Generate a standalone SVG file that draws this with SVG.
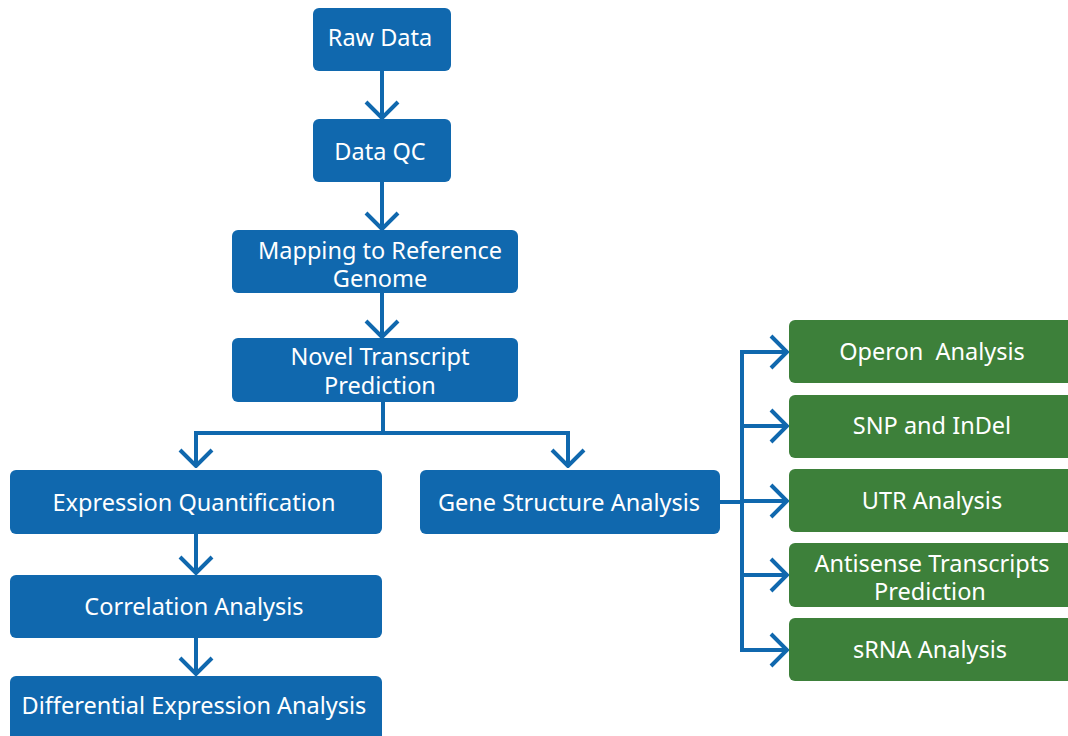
<svg xmlns="http://www.w3.org/2000/svg" width="1068" height="736" viewBox="0 0 1068 736">
<defs>
<style>
.b{fill:#1068ae}
.g{fill:#3d803a}
text{font-family:"Noto Sans","Open Sans",sans-serif;font-size:23.5px;fill:#ffffff;text-anchor:middle;dominant-baseline:central;white-space:pre}
.c{fill:none;stroke:#1068ae;stroke-width:4}
</style>
<marker id="ah" viewBox="0 0 20 36" refX="18" refY="18" markerWidth="20" markerHeight="36" markerUnits="userSpaceOnUse" orient="auto">
<path d="M2,2 L18,18 L2,34" fill="none" stroke="#1068ae" stroke-width="4"/>
</marker>
</defs>
<rect width="1068" height="736" fill="#ffffff"/>
<g id="connectors">
<path class="c" d="M382,71 V118" marker-end="url(#ah)"/>
<path class="c" d="M382,182 V229" marker-end="url(#ah)"/>
<path class="c" d="M382,293 V337" marker-end="url(#ah)"/>
<path class="c" d="M383,402 V433"/>
<path class="c" d="M196,433 H568"/>
<path class="c" d="M196,431 V466" marker-end="url(#ah)"/>
<path class="c" d="M568,431 V466" marker-end="url(#ah)"/>
<path class="c" d="M196,534 V573" marker-end="url(#ah)"/>
<path class="c" d="M196,638 V674" marker-end="url(#ah)"/>
<path class="c" d="M720,502 H742"/>
<path class="c" d="M742,350 V652"/>
<path class="c" d="M740,352 H787" marker-end="url(#ah)"/>
<path class="c" d="M740,426 H787" marker-end="url(#ah)"/>
<path class="c" d="M740,501 H787" marker-end="url(#ah)"/>
<path class="c" d="M740,575 H787" marker-end="url(#ah)"/>
<path class="c" d="M740,650 H787" marker-end="url(#ah)"/>
</g>
<g id="raw"><rect class="b" x="313" y="8" width="138" height="63" rx="6"/><text x="380" y="37">Raw Data</text></g>
<g id="qc"><rect class="b" x="313" y="119" width="138" height="63" rx="6"/><text x="380" y="151">Data QC</text></g>
<g id="mapping"><rect class="b" x="232" y="230" width="286" height="63" rx="6"/><text x="380" y="250">Mapping to Reference</text><text x="380" y="278">Genome</text></g>
<g id="novel"><rect class="b" x="232" y="338" width="286" height="64" rx="6"/><text x="380" y="356">Novel Transcript</text><text x="380" y="385">Prediction</text></g>
<g id="expr"><rect class="b" x="10" y="470" width="372" height="64" rx="6"/><text x="194" y="502">Expression Quantification</text></g>
<g id="corr"><rect class="b" x="10" y="575" width="372" height="63" rx="6"/><text x="194" y="606">Correlation Analysis</text></g>
<g id="diff"><rect class="b" x="10" y="676" width="372" height="70" rx="6"/><text x="194" y="705">Differential Expression Analysis</text></g>
<g id="gene"><rect class="b" x="420" y="470" width="300" height="64" rx="6"/><text x="569" y="502">Gene Structure Analysis</text></g>
<g id="operon"><rect class="g" x="789" y="320" width="285" height="63" rx="6"/><text x="932" y="351">Operon  Analysis</text></g>
<g id="snp"><rect class="g" x="789" y="395" width="285" height="63" rx="6"/><text x="932" y="425">SNP and InDel</text></g>
<g id="utr"><rect class="g" x="789" y="469" width="285" height="63" rx="6"/><text x="932" y="500">UTR Analysis</text></g>
<g id="antisense"><rect class="g" x="789" y="543" width="285" height="64" rx="6"/><text x="932" y="563">Antisense Transcripts</text><text x="930" y="591">Prediction</text></g>
<g id="srna"><rect class="g" x="789" y="618" width="285" height="63" rx="6"/><text x="930" y="649">sRNA Analysis</text></g>
</svg>
